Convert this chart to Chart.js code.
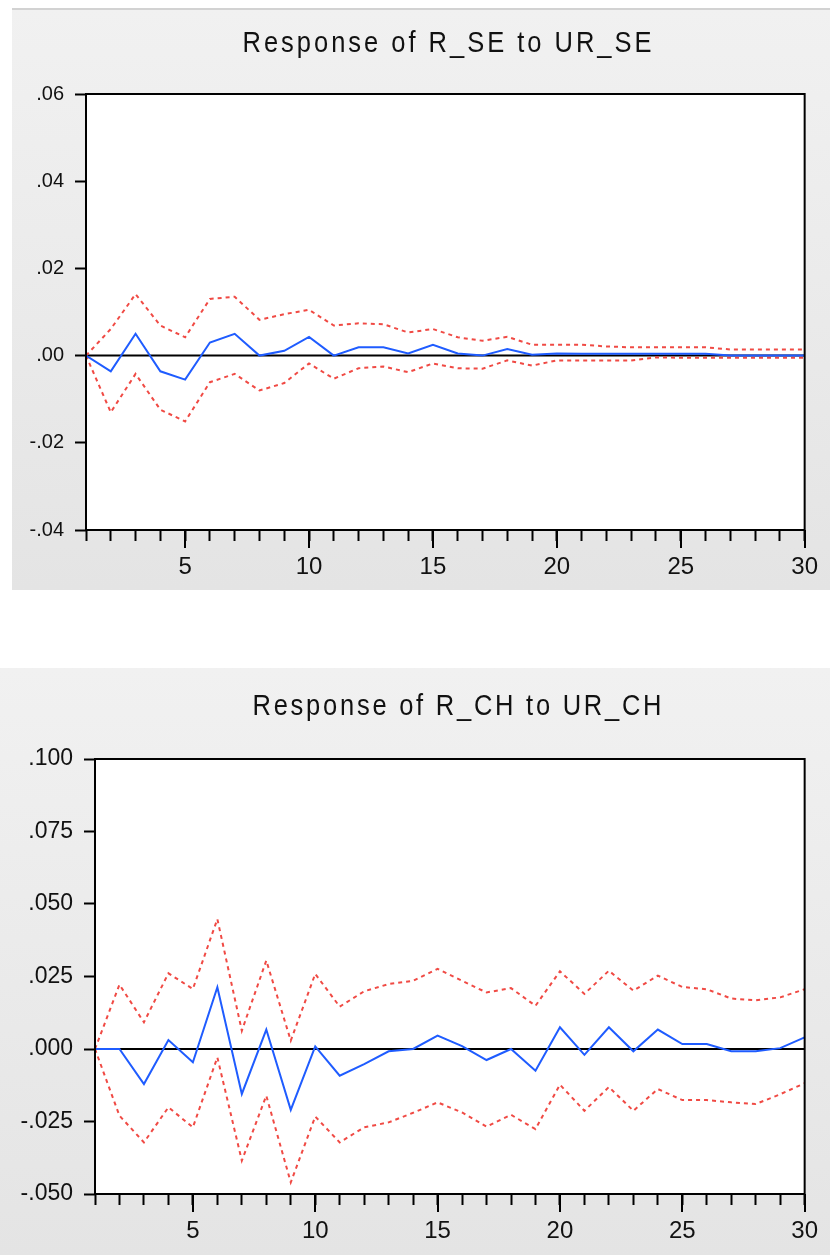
<!DOCTYPE html>
<html>
<head>
<meta charset="utf-8">
<script src="https://cdn.jsdelivr.net/npm/chart.js@4"></script>
<style>
  body { margin: 0; width: 830px; height: 1255px; background: #fff; position: relative; overflow: hidden; }
  .panel { position: absolute; background: linear-gradient(#f1f1f1, #e4e4e4); }
  #panelSE { left: 12px; top: 8px; width: 818px; height: 582px; box-shadow: inset 0 2px 0 #d2d2d2; }
  #panelCH { left: 0; top: 668px; width: 830px; height: 587px; }
  canvas { position: absolute; left: 0; top: 0; }
</style>
</head>
<body>
<div class="panel" id="panelSE"><canvas id="chartSE" width="818" height="582"></canvas></div>
<div class="panel" id="panelCH"><canvas id="chartCH" width="830" height="587"></canvas></div>

<script>
// ================= DATA =================
const steps = [1, 2, 3, 4, 5, 6, 7, 8, 9, 10, 11, 12, 13, 14, 15,
  16, 17, 18, 19, 20, 21, 22, 23, 24, 25, 26, 27, 28, 29, 30];

// Response of R_SE to UR_SE
const seResponse = [0, -0.0036, 0.0050, -0.0036, -0.0055, 0.0030, 0.0050, 0.0000, 0.0011, 0.0043,
  0.0000, 0.0019, 0.0019, 0.0005, 0.0025, 0.0005, 0.0000, 0.0015, 0.0002, 0.0005,
  0.0004, 0.0004, 0.0004, 0.0004, 0.0004, 0.0004, 0.0000, 0.0000, 0.0000, 0.0000];
const seUpper = [0, 0.0061, 0.0141, 0.0069, 0.0042, 0.0130, 0.0135, 0.0082, 0.0095, 0.0105,
  0.0069, 0.0074, 0.0072, 0.0053, 0.0061, 0.0042, 0.0034, 0.0043, 0.0025, 0.0025,
  0.0025, 0.0021, 0.0019, 0.0019, 0.0019, 0.0019, 0.0014, 0.0014, 0.0014, 0.0014];
const seLower = [0, -0.0130, -0.0042, -0.0124, -0.0151, -0.0061, -0.0042, -0.0080, -0.0063, -0.0018,
  -0.0053, -0.0029, -0.0025, -0.0038, -0.0018, -0.0029, -0.0030, -0.0011, -0.0023, -0.0011,
  -0.0011, -0.0011, -0.0011, -0.0004, -0.0005, -0.0005, -0.0005, -0.0005, -0.0005, -0.0005];
const seTicks = [-0.04, -0.02, 0, 0.02, 0.04, 0.06];

// Response of R_CH to UR_CH
const chResponse = [0, 0, -0.0121, 0.0031, -0.0046, 0.0213, -0.0155, 0.0067, -0.0210, 0.0009,
  -0.0092, -0.0052, -0.0008, 0.0000, 0.0046, 0.0010, -0.0038, 0.0000, -0.0075, 0.0075,
  -0.0020, 0.0075, -0.0008, 0.0067, 0.0017, 0.0017, -0.0008, -0.0008, 0.0003, 0.0040];
const chUpper = [0, 0.0222, 0.0092, 0.0261, 0.0207, 0.0448, 0.0063, 0.0305, 0.0029, 0.0259,
  0.0146, 0.0199, 0.0224, 0.0235, 0.0276, 0.0235, 0.0195, 0.0210, 0.0149, 0.0268,
  0.0190, 0.0270, 0.0201, 0.0253, 0.0214, 0.0206, 0.0174, 0.0168, 0.0178, 0.0206];
const chLower = [0, -0.0230, -0.0322, -0.0201, -0.0270, -0.0029, -0.0385, -0.0161, -0.0460, -0.0233,
  -0.0322, -0.0270, -0.0253, -0.0220, -0.0184, -0.0219, -0.0268, -0.0227, -0.0276, -0.0123,
  -0.0213, -0.0131, -0.0213, -0.0138, -0.0176, -0.0176, -0.0184, -0.0190, -0.0156, -0.0118];
const chTicks = [-0.05, -0.025, 0, 0.025, 0.05, 0.075, 0.1];

const BLUE = "#1f5cff";
const RED = "#f04a44";
const SANS = "'Liberation Sans', Arial, sans-serif";

// ================= PLUGIN: white plot, zero line, frame, long ticks, title =================
const framePlugin = {
  id: "frame",
  beforeDraw(chart) {
    const { ctx, chartArea: a } = chart;
    ctx.save();
    ctx.fillStyle = "#fff";
    ctx.fillRect(a.left, a.top, a.right - a.left, a.bottom - a.top);
    ctx.restore();
  },
  beforeDatasetsDraw(chart) {
    const { ctx, chartArea: a, scales } = chart;
    const y0 = scales.y.getPixelForValue(0);
    ctx.save();
    ctx.strokeStyle = "#000";
    ctx.lineWidth = 2;
    ctx.beginPath();
    ctx.moveTo(a.left, y0);
    ctx.lineTo(a.right, y0);
    ctx.stroke();
    ctx.restore();
  },
  afterDatasetsDraw(chart) {
    const { ctx, chartArea: a, scales } = chart;
    ctx.save();
    ctx.strokeStyle = "#000";
    ctx.lineWidth = 2;
    ctx.strokeRect(a.left, a.top, a.right - a.left, a.bottom - a.top);
    // longer ticks every 5 steps
    scales.x.ticks.forEach(t => {
      if (t.value % 5 !== 0) return;
      const x = Math.round(scales.x.getPixelForValue(t.value));
      ctx.beginPath();
      ctx.moveTo(x, a.bottom);
      ctx.lineTo(x, a.bottom + 18);
      ctx.stroke();
    });
    ctx.restore();
  },
  afterDraw(chart, args, opts) {
    // narrow, tall title text stretched to the reference width
    const ctx = chart.ctx;
    const squeeze = 0.85;
    ctx.save();
    ctx.font = opts.size + "px " + SANS;
    ctx.fillStyle = "#111";
    ctx.textAlign = "left";
    ctx.textBaseline = "alphabetic";
    ctx.letterSpacing = "0px";
    const plain = ctx.measureText(opts.text).width * squeeze;
    const gap = Math.max(0, (opts.width - plain) / (opts.text.length - 1));
    ctx.translate(opts.x - opts.width / 2, opts.y);
    ctx.scale(squeeze, 1);
    ctx.letterSpacing = (gap / squeeze) + "px";
    ctx.fillText(opts.text, 0, 0);
    ctx.restore();
  }
};

// ================= CHART =================
function makeChart(id, cfg) {
  const pts = arr => steps.map((s, i) => ({ x: s, y: arr[i] }));
  const ticks = cfg.ticks;

  return new Chart(document.getElementById(id), {
    type: "line",
    data: {
      datasets: [
        { data: pts(cfg.response), borderColor: BLUE, borderWidth: 2 },
        { data: pts(cfg.upper), borderColor: RED, borderWidth: 2, borderDash: [4, 4] },
        { data: pts(cfg.lower), borderColor: RED, borderWidth: 2, borderDash: [4, 4] }
      ]
    },
    options: {
      responsive: false,
      animation: false,
      devicePixelRatio: 1,
      elements: { point: { radius: 0 }, line: { tension: 0 } },
      layout: { padding: cfg.padding },
      plugins: {
        legend: { display: false },
        tooltip: { enabled: false },
        frame: cfg.title
      },
      scales: {
        x: {
          type: "linear",
          min: steps[0],
          max: steps[steps.length - 1],
          border: { display: false },
          grid: { drawOnChartArea: false, tickLength: 11, tickWidth: 2, tickColor: "#000" },
          ticks: {
            stepSize: 1,
            autoSkip: false,
            maxRotation: 0,
            padding: 12,
            color: "#111",
            font: { family: SANS, size: 24 },
            callback: v => (v % 5 === 0 ? String(v) : "")
          },
          afterFit: s => { s.height = cfg.xHeight; }
        },
        y: {
          min: ticks[0],
          max: ticks[ticks.length - 1],
          border: { display: false },
          grid: { drawOnChartArea: false, tickLength: 11, tickWidth: 2, tickColor: "#000" },
          ticks: {
            stepSize: ticks[1] - ticks[0],
            padding: 11,
            color: "#111",
            font: { family: SANS, size: cfg.yFont },
            callback: v => v.toFixed(cfg.digits).replace("0.", ".")
          },
          afterFit: s => { s.width = cfg.yWidth; }
        }
      }
    },
    plugins: [framePlugin]
  });
}

// ================= INIT =================
makeChart("chartSE", {
  response: seResponse, upper: seUpper, lower: seLower,
  ticks: seTicks, digits: 2, yFont: 20,
  padding: { left: 0, top: 86, right: 16, bottom: 0 },
  yWidth: 74, xHeight: 60,
  title: { text: "Response of R_SE to UR_SE", x: 435, y: 44, width: 409, size: 30 }
});

makeChart("chartCH", {
  response: chResponse, upper: chUpper, lower: chLower,
  ticks: chTicks, digits: 3, yFont: 23,
  padding: { left: 0, top: 91, right: 10, bottom: 0 },
  yWidth: 95, xHeight: 61,
  title: { text: "Response of R_CH to UR_CH", x: 457, y: 47, width: 409, size: 30 }
});
</script>
</body>
</html>
